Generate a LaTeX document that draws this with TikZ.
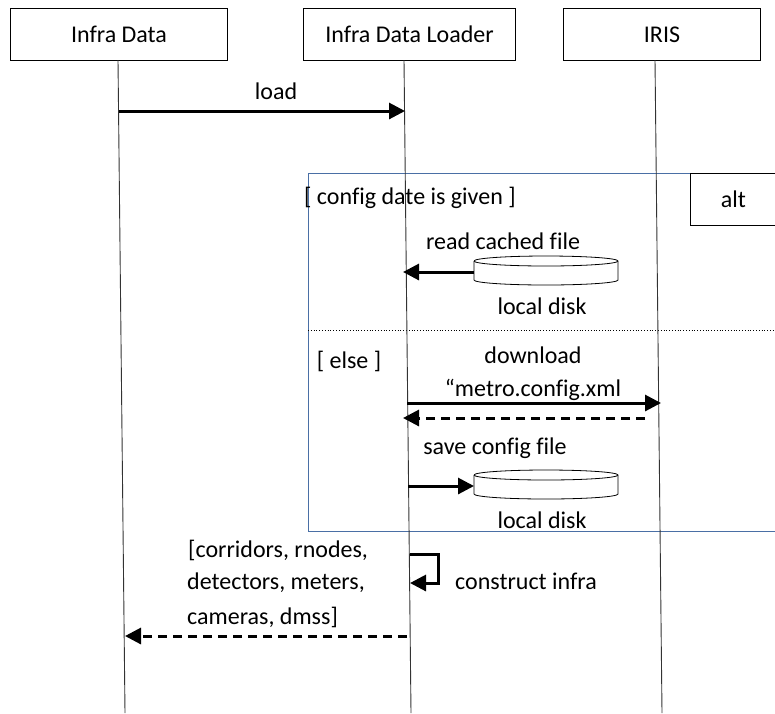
\documentclass[tikz,border=0pt]{standalone}
\usepackage{fontspec}
\setmainfont{Carlito}[Ligatures=NoCommon]
\usepackage{xcolor}
\usetikzlibrary{arrows.meta}
\definecolor{framecolor}{HTML}{4A6FA5}
\tikzset{
  actor/.style={draw,shape=rectangle,anchor=north west,inner sep=0pt,line width=1pt},
  lifeline/.style={draw,line width=0.9pt,black!80},
  msg/.style={line width=3pt,-{Triangle[length=16pt,width=16pt]}},
  reply/.style={msg,dash pattern=on 9pt off 6pt},
  disk/.style={shape=rectangle,anchor=north west,inner sep=0pt,outer sep=0pt,minimum width=144pt,minimum height=29pt},
  diskline/.style={line width=0.8pt,fill=white},
  label/.style={inner sep=0pt,align=center}
}
\begin{document}
\begin{tikzpicture}[x=1pt,y=-1pt,every node/.style={font=\fontsize{24}{28}\selectfont}]
      \useasboundingbox (0,0) rectangle (775,713);
      % alt frame
      \coordinate (fnw) at (308,173);
      \coordinate (fsw) at (308,531);
      \coordinate (fne) at (775,173);
      \coordinate (fse) at (775,531);
      \coordinate (sepl) at (308,330);
      \coordinate (sepr) at (775,330);
      \draw[framecolor,line width=0.8pt] (fne) -- (fnw) -- (fsw) -- (fse);
      \draw[dotted,line width=0.8pt] (sepl) -- (sepr);
      \node[actor,minimum width=86pt,minimum height=52pt] (alt) at (690,173) {alt};
      % actors
      \node[actor,minimum width=217pt,minimum height=52pt] (data) at (10,8) {Infra Data};
      \node[actor,minimum width=212pt,minimum height=52pt] (loader) at (303,8) {Infra Data Loader};
      \node[actor,minimum width=197pt,minimum height=52pt] (iris) at (563,8) {IRIS};
      \coordinate (datatop) at (118,60);
      \coordinate (loadertop) at (404,60);
      \coordinate (iristop) at (655,60);
      \coordinate (dataend) at (125,713);
      \coordinate (loaderend) at (411,713);
      \coordinate (irisend) at (662,713);
      \draw[lifeline] (datatop) -- (dataend);
      \draw[lifeline] (loadertop) -- (loaderend);
      \draw[lifeline] (iristop) -- (irisend);
      % disks
      \foreach \name/\ypos in {disktop/256,diskbot/470}{
        \node[disk] (\name) at (474,\ypos) {};
        \draw[diskline] (\name.north west) ++(0,5) -- ++(0,19) arc[start angle=180,end angle=360,x radius=72,y radius=-5] -- ++(0,-19) arc[start angle=0,end angle=180,x radius=72,y radius=-5];
        \draw[diskline] (\name.north west) ++(0,5) arc[start angle=180,end angle=360,x radius=72,y radius=-5];
      }
      % messages
      \coordinate (l1) at (119,111);
      \coordinate (l2) at (405,111);
      \draw[msg] (l1) -- (l2);
      \coordinate (r1) at (403,272);
      \draw[msg] (disktop.west |- r1) -- (r1);
      \coordinate (d1) at (407,403);
      \coordinate (d2) at (661,403);
      \draw[msg] (d1) -- (d2);
      \coordinate (b1) at (645,418);
      \coordinate (b2) at (403,418);
      \draw[reply] (b1) -- (b2);
      \coordinate (s1) at (408,486);
      \draw[msg] (s1) -- (diskbot.west |- s1);
      \coordinate (c1) at (410,554);
      \coordinate (c2) at (438,554);
      \coordinate (c3) at (438,583);
      \coordinate (c4) at (410,583);
      \draw[msg] (c1) -- (c2) -- (c3) -- (c4);
      \coordinate (e1) at (407,636);
      \coordinate (e2) at (125,636);
      \draw[reply] (e1) -- (e2);
      % labels
      \node[label] (loadtxt) at (276,91) {load};
      \node[label,anchor=west] (given) at (304,198) {[ config date is given ]};
      \node[label] (readtxt) at (503,241) {read cached file};
      \node[label] (disktxta) at (542,306) {local disk};
      \node[label] (elsetxt) at (349,361) {[ else ]};
      \node[label] (dltxt) at (533,355) {download};
      \node[label] (xmltxt) at (533,390) {“metro.config.xml};
      \node[label] (savetxt) at (495,448) {save config file};
      \node[label] (disktxtb) at (542,520) {local disk};
      \node[label,anchor=west] (listtxta) at (188,550) {[corridors, rnodes,};
      \node[label,anchor=west] (listtxtb) at (187,583) {detectors, meters,};
      \node[label,anchor=west] (listtxtc) at (187,617) {cameras, dmss]};
      \node[label] (constxt) at (526,581) {construct infra};
\end{tikzpicture}
\end{document}
